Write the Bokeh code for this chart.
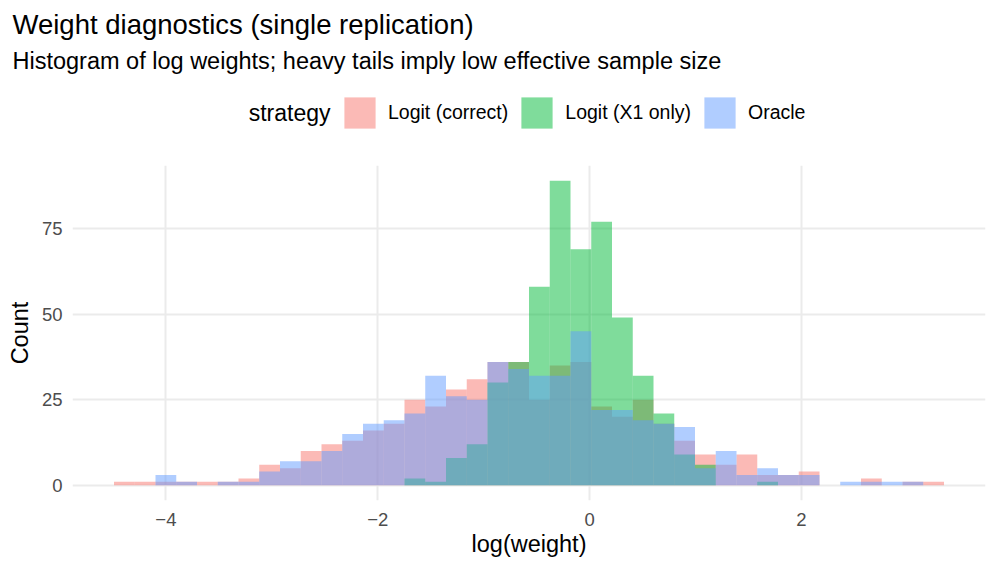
import numpy as np
from bokeh.plotting import figure
from bokeh.layouts import column
from bokeh.models import (Range1d, FixedTicker, Label, Legend, LegendItem,
                          ColumnDataSource)
from bokeh.embed import file_html
from bokeh.resources import INLINE

# ---------------- data ----------------
strategies = ["Logit (correct)", "Logit (X1 only)", "Oracle"]
colors = ["#F8766D", "#00BA38", "#619CFF"]

bin_start = -4.49
bin_width = 0.1959

counts_correct = [1, 1, 1, 1, 1, 1, 2, 6, 5, 10, 12, 13, 16, 18, 25, 23, 28, 31, 36, 36,
                  25, 35, 36, 23, 20, 25, 18, 13, 9, 6, 9, 3, 3, 4, 0, 0, 2, 0, 1, 1]
counts_x1only = [0, 0, 0, 0, 0, 0, 0, 0, 0, 0, 0, 0, 0, 0, 2, 1, 8, 12, 30, 36,
                 58, 89, 69, 77, 49, 32, 21, 9, 6, 0, 0, 1, 0, 0, 0, 0, 0, 0, 0, 0]
counts_oracle = [0, 0, 3, 1, 0, 1, 1, 4, 7, 7, 10, 15, 18, 19, 21, 32, 26, 25, 36, 34,
                 32, 32, 45, 22, 22, 19, 18, 17, 5, 10, 3, 5, 3, 3, 0, 1, 1, 1, 1, 0]

x_ticks = [-4, -2, 0, 2]
x_tick_labels = ["\u22124", "\u22122", "0", "2"]
y_ticks = [0, 25, 50, 75]
y_tick_labels = ["0", "25", "50", "75"]

title_text = "Weight diagnostics (single replication)"
subtitle_text = "Histogram of log weights; heavy tails imply low effective sample size"
legend_title = "strategy"
x_label = "log(weight)"
y_label = "Count"

FONT = "Liberation Sans"
W = 988
HEADER_H = 165
MAIN_H = 401

# ---------------- header (titles + legend) ----------------
hdr = figure(width=W, height=HEADER_H, output_backend="svg", toolbar_location=None,
             x_range=Range1d(0, W), y_range=Range1d(HEADER_H, 0),
             x_axis_type=None, y_axis_type=None,
             min_border_left=0, min_border_right=0, min_border_top=0, min_border_bottom=0)
hdr.frame_align = False
hdr.outline_line_color = None
hdr.grid.visible = False

hdr.add_layout(Label(x=12, y=24, text=title_text, text_font=FONT,
                     text_font_size="27.5px", text_color="black",
                     text_baseline="alphabetic", text_align="left"))
hdr.add_layout(Label(x=12, y=60, text=subtitle_text, text_font=FONT,
                     text_font_size="23.5px", text_color="black",
                     text_baseline="alphabetic", text_align="left"))
hdr.add_layout(Label(x=330, y=112.5, text=legend_title, text_font=FONT,
                     text_font_size="23px", text_color="black",
                     text_baseline="middle", text_align="right"))

proxies = []
for col in colors:
    src = ColumnDataSource(dict(left=[np.nan], right=[np.nan], top=[np.nan], bottom=[np.nan]))
    proxies.append(hdr.quad(left="left", right="right", top="top", bottom="bottom",
                            source=src, fill_color=col, fill_alpha=0.5, line_color=None))

legend = Legend(items=[LegendItem(label=s, renderers=[r]) for s, r in zip(strategies, proxies)],
                orientation="horizontal", location=(340, 33),
                glyph_width=39, glyph_height=39, label_height=39,
                label_standoff=9, spacing=9, padding=0, margin=0,
                border_line_color=None, background_fill_alpha=0,
                label_text_font=FONT, label_text_font_size="19.5px",
                label_text_baseline="middle", label_text_color="black")
hdr.add_layout(legend, "center")

# ---------------- main histogram ----------------
n_bins = len(counts_correct)
edges = bin_start + bin_width * np.arange(n_bins + 1)
lo, hi = edges[0], edges[-1]
pad = 0.05 * (hi - lo)
ymax = max(max(counts_correct), max(counts_x1only), max(counts_oracle))

p = figure(width=W, height=MAIN_H, output_backend="svg", toolbar_location=None,
           x_range=Range1d(lo - pad, hi + pad),
           y_range=Range1d(-0.05 * ymax, ymax * 1.05),
           min_border_left=72, min_border_right=3, min_border_top=0,
           min_border_bottom=66)
p.frame_align = False
p.outline_line_color = None

for counts, col in zip([counts_correct, counts_x1only, counts_oracle], colors):
    src = ColumnDataSource(dict(left=edges[:-1], right=edges[1:],
                                top=counts, bottom=[0] * n_bins))
    p.quad(left="left", right="right", top="top", bottom="bottom", source=src,
           fill_color=col, fill_alpha=0.5, line_color=None)

p.xaxis.ticker = FixedTicker(ticks=x_ticks)
p.yaxis.ticker = FixedTicker(ticks=y_ticks)
p.xaxis.major_label_overrides = {t: l for t, l in zip(x_ticks, x_tick_labels)}
p.yaxis.major_label_overrides = {t: l for t, l in zip(y_ticks, y_tick_labels)}
for ax in (p.xaxis, p.yaxis):
    ax.axis_line_color = None
    ax.major_tick_line_color = None
    ax.minor_tick_line_color = None
    ax.major_tick_out = 0
    ax.major_tick_in = 0
    ax.minor_tick_out = 0
    ax.minor_tick_in = 0
    ax.major_label_text_font = FONT
    ax.major_label_text_font_size = "18.5px"
    ax.major_label_text_color = "#4D4D4D"
    ax.axis_label_text_font = FONT
    ax.axis_label_text_font_size = "23.5px"
    ax.axis_label_text_font_style = "normal"
    ax.axis_label_text_color = "black"
p.xaxis.axis_label = x_label
p.yaxis.axis_label = y_label
p.xaxis.major_label_standoff = 12
p.xaxis.axis_label_standoff = 2
p.yaxis.major_label_standoff = 10
p.yaxis.axis_label_standoff = 6

p.xgrid.ticker = FixedTicker(ticks=x_ticks)
p.ygrid.ticker = FixedTicker(ticks=y_ticks)
p.grid.grid_line_color = "#EBEBEB"
p.grid.grid_line_width = 2
p.grid.minor_grid_line_color = None

layout = column(hdr, p, spacing=0)
open("out.html", "w").write(file_html(layout, INLINE))
